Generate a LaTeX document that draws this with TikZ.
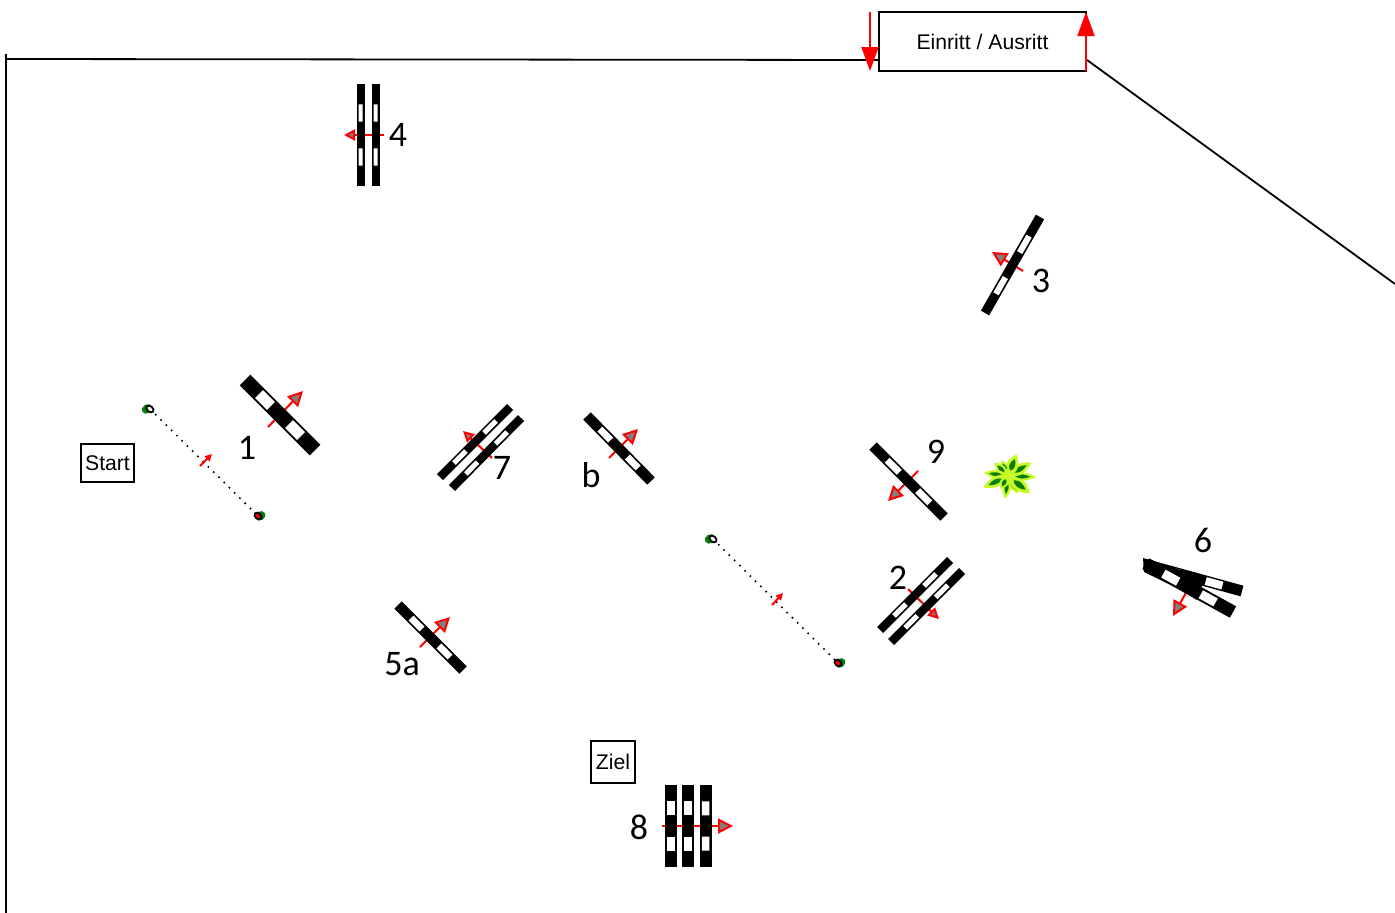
\documentclass[tikz,border=0pt]{standalone}
\usepackage{fontspec}
\setmainfont{Liberation Sans}
\newfontfamily\zahlfont{Carlito}
\usetikzlibrary{arrows.meta,calc}

\definecolor{pfeilgrau}{RGB}{128,128,128}
\definecolor{blattgelb}{RGB}{200,252,40}
\definecolor{blattgruen}{RGB}{10,125,10}
\definecolor{stangengruen}{RGB}{0,128,0}

\tikzset{
  grenze/.style={black, line width=1.8pt},
  schild/.style={draw=black, line width=1.8pt, fill=white, inner sep=0pt, font=\fontsize{21.2}{24}\selectfont},
  zahl/.style={inner sep=0pt, font=\zahlfont\fontsize{36}{40}\selectfont},
  richtung/.style={red, line width=2pt, -{Triangle[length=15pt, width=15pt, fill=pfeilgrau]}},
  richtungklein/.style={red, line width=2pt, -{Triangle[length=11pt, width=11pt, fill=pfeilgrau]}},
  tor/.style={red, line width=2pt, -{Triangle[length=24pt, width=17pt, fill=red]}},
  mittelpfeil/.style={red, line width=2pt, -{Triangle[length=7pt, width=7pt, fill=red]}},
  punktlinie/.style={black, line width=1.6pt, dash pattern=on 1.6pt off 5.8pt},
}

% Hindernis: Enden, Balkenbreite, Fensterbreite
\newcommand{\balken}[4]{%
  \draw[black, line width=#3pt] (#1) -- (#2);
  \draw[white, line width=#4pt] ($(#1)!0.20!(#2)$) -- ($(#1)!0.37!(#2)$);
  \draw[white, line width=#4pt] ($(#1)!0.63!(#2)$) -- ($(#1)!0.80!(#2)$);
}
% Stange: Lage, Versatz des Gruens, Innenfarbe
\newcommand{\stange}[3]{%
  \fill[stangengruen, rotate around={30:(#1)}] ($(#1)+(#2)$) ellipse (5.5 and 4.5);
  \draw[black, line width=1.8pt, fill=#3, rotate around={-40:(#1)}] (#1) ellipse (4 and 2.8);
}

\begin{document}
\begin{tikzpicture}[x=1pt, y=-1pt]
  \useasboundingbox (0,0) rectangle (1395,913);

  % Begrenzung
  \coordinate (ecke) at (6,59);
  \draw[grenze] (6,54) -- (6,913);
  \draw[grenze] (ecke) -- (880,60);
  \draw[grenze] (1087,60) -- (1395,284);

  % Einritt
  \node[schild, minimum width=207pt, minimum height=59pt] (einritt) at (982.5,41.5) {Einritt / Ausritt};
  \draw[tor] (870,12) -- (870,71);
  \draw[tor] (1086,71) -- (1086,12);

  % Schilder
  \node[schild, minimum width=53pt, minimum height=38pt] (start) at (107.5,463) {Start};
  \node[schild, minimum width=44pt, minimum height=42pt] (ziel) at (613,762) {Ziel};

  % Start- und Ziellinie
  \coordinate (startA) at (150,409);
  \coordinate (startB) at (258,516);
  \coordinate (zielA) at (713,539);
  \coordinate (zielB) at (838,663);
  \draw[punktlinie] (startA) -- (startB);
  \draw[punktlinie] (zielA) -- (zielB);
  \draw[mittelpfeil] (200,466) -- (212,454);
  \draw[mittelpfeil] (772,605) -- (783,593);
  \stange{startA}{-2.5,-1.5}{white}
  \stange{zielA}{-2.5,-1.5}{white}
  \stange{startB}{2,1}{red}
  \stange{zielB}{2,1}{red}

  % Hindernisse
  \draw[richtung] (268,427) -- (303,391);
  \balken{245,380}{315,450}{15}{11}

  \draw[richtungklein] (384,135) -- (344,135);
  \balken{360.5,84}{360.5,186}{8}{4}
  \balken{375.5,84}{375.5,186}{8}{4}

  \draw[richtung] (1023,271) -- (992,252);
  \balken{1040,217}{985,313}{9.5}{6}

  \draw[richtungklein] (492,458) -- (463,431);
  \balken{510,407}{440,477}{8.5}{5}
  \balken{521,418}{452,488}{8.5}{5}

  \draw[richtung] (609,458) -- (638,429);
  \balken{587,416}{651,481}{10.5}{7}

  \draw[richtung] (918,471) -- (888,501);
  \balken{873,446}{944,517}{10.5}{7}

  \draw[richtungklein] (908,589) -- (939,619);
  \balken{880,630}{950,560}{8.5}{5}
  \balken{891,642}{962,571}{8.5}{5}

  \draw[richtung] (1197,573) -- (1173,616);
  \balken{1144,564}{1242,591}{11}{8}
  \fill[black] (1143,558) -- (1190,573) -- (1204,580) -- (1197,600) -- (1175,587) -- (1144,572) -- cycle;
  \balken{1146,564}{1233,612}{13}{9}

  \draw[richtung] (420,647) -- (450,617);
  \balken{398,605}{463,670}{10.5}{7}

  \draw[richtung] (662,826) -- (733,826);
  \balken{671,785}{671,867}{12}{7.5}
  \balken{688,785}{688,867}{12}{7.5}
  \balken{705.5,785}{705.5,867}{12}{7.5}

  % Busch
  \foreach \w/\l/\b in {-97/23/5, -60/20/5, -38/28/7, -2/28/5, 30/27/6, 68/23/7, 112/17/5, 135/19/5, 172/24/5, 205/27/6, 240/15/5}{
    \begin{scope}[shift={(1008,476)}, rotate=\w]
      \fill[blattgelb] (0,0) .. controls (0.3*\l,-1.3*\b) and (0.7*\l,-\b) .. (\l,0) .. controls (0.7*\l,\b) and (0.3*\l,1.3*\b) .. (0,0);
      \fill[blattgruen] (0.25*\l,0) .. controls (0.4*\l,-0.6*\b) and (0.6*\l,-0.5*\b) .. (0.8*\l,0) .. controls (0.6*\l,0.5*\b) and (0.4*\l,0.6*\b) .. (0.25*\l,0);
    \end{scope}
  }

  % Nummern
  \node[zahl] (n1) at (247,448) {1};
  \node[zahl] (n2) at (898,578) {2};
  \node[zahl] (n3) at (1041,281) {3};
  \node[zahl] (n4) at (398,135) {4};
  \node[zahl] (n5a) at (402,664) {5a};
  \node[zahl] (n6) at (1203,540) {6};
  \node[zahl] (n7) at (502,468) {7};
  \node[zahl] (n8) at (639,827) {8};
  \node[zahl] (n9) at (936,452) {9};
  \node[zahl] (nb) at (591,475) {b};
\end{tikzpicture}
\end{document}
